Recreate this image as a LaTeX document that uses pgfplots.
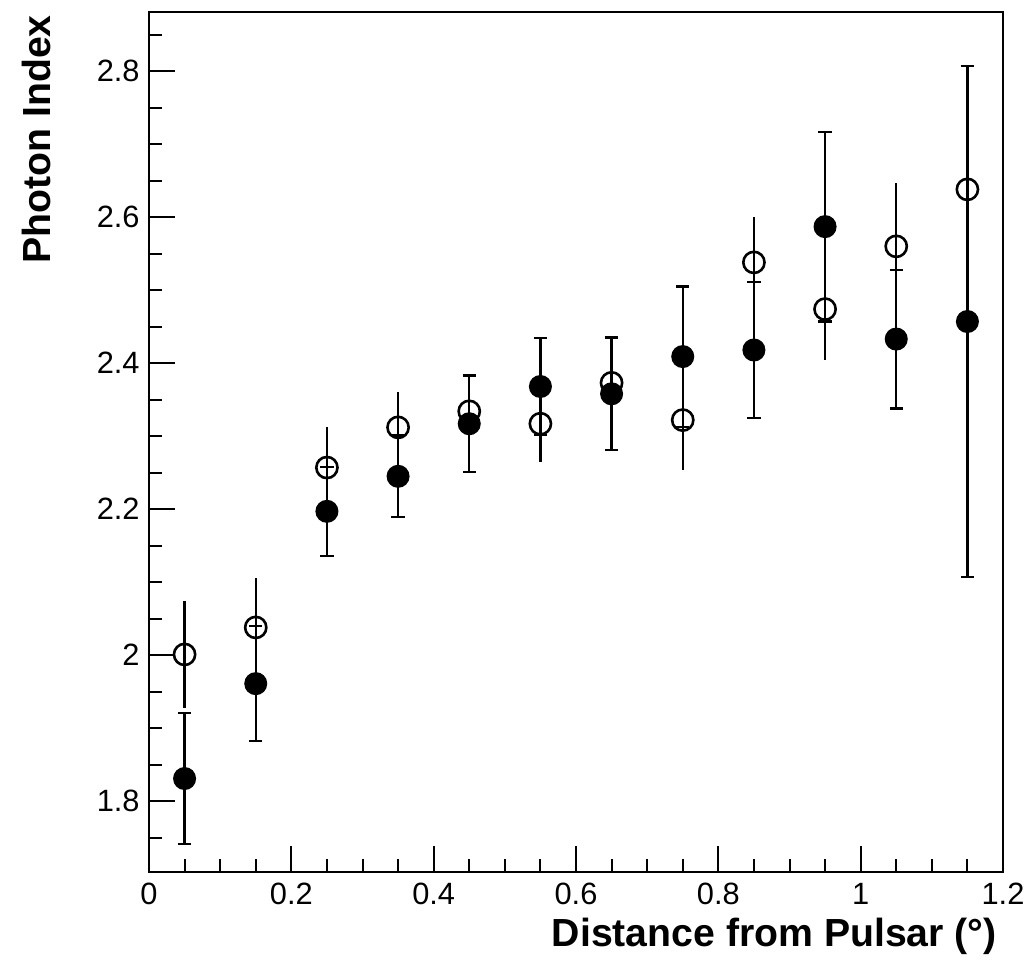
\documentclass[border=0pt]{standalone}
\usepackage{fontspec}
\setmainfont{Liberation Sans}
\usepackage{pgfplots}
\pgfplotsset{compat=1.18}
\usetikzlibrary{calc}
\begin{document}
\begin{tikzpicture}
\begin{axis}[
  name=ax,
  at={(0,0)}, anchor=south west,
  scale only axis,
  width=427pt, height=430pt,
  xmin=0, xmax=1.2,
  ymin=1.703, ymax=2.881,
  axis line style={line width=1.3pt},
  every tick/.style={black, line width=1pt},
  tick align=inside,
  xtick pos=bottom, ytick pos=left,
  xtick={0,0.2,0.4,0.6,0.8,1,1.2},
  ytick={1.8,2,2.2,2.4,2.6,2.8},
  minor xtick={0.05,0.1,0.15,0.25,0.3,0.35,0.45,0.5,0.55,0.65,0.7,0.75,0.85,0.9,0.95,1.05,1.1,1.15},
  minor ytick={1.75,1.85,1.9,1.95,2.05,2.1,2.15,2.25,2.3,2.35,2.45,2.5,2.55,2.65,2.7,2.75,2.85},
  major tick length=13pt,
  minor tick length=6.5pt,
  /pgf/number format/assume math mode=true,
  tick label style={font=\fontsize{15.4}{18}\selectfont, inner sep=0pt},
  yticklabel style={xshift=-4.5pt},
  xticklabel style={yshift=-5.5pt},
  xlabel={Distance from Pulsar (°)},
  ylabel={Photon Index},
  label style={font=\fontsize{19.6}{23}\selectfont\bfseries, inner sep=0pt},
  xlabel style={at={(axis description cs:0.993,-0.0872)}, anchor=base east},
  ylabel style={at={(axis description cs:-0.1159,0.9965)}, anchor=base east, rotate=0},
  clip=false,
]
% open circles
\addplot+[black, line width=1.1pt, only marks, mark=o,
  mark size=5.3pt, mark options={line width=1.3pt, black, fill=none},
  error bars/.cd, y dir=both, y explicit, error mark=none,
  error bar style={line width=1.1pt, black}]
  table[x=x, y=y, y error=e] {
x y e
0.05 2.001 0.073
0.15 2.038 0.068
0.25 2.257 0.055
0.35 2.312 0.048
0.45 2.334 0.050
0.55 2.317 0.052
0.65 2.373 0.060
0.75 2.322 0.068
0.85 2.538 0.062
0.95 2.474 0.070
1.05 2.560 0.087
1.15 2.638 0.150
};
% filled circles
\addplot+[black, line width=1.1pt, only marks, mark=*,
  mark size=5.2pt, mark options={black, fill=black},
  error bars/.cd, y dir=both, y explicit,
  error mark options={rotate=90, mark size=3.3pt, line width=1.1pt, black},
  error bar style={line width=1.1pt, black}]
  table[x=x, y=y, y error=e] {
x y e
0.05 1.831 0.090
0.15 1.961 0.079
0.25 2.197 0.061
0.35 2.245 0.056
0.45 2.317 0.066
0.55 2.368 0.066
0.65 2.358 0.077
0.75 2.409 0.096
0.85 2.418 0.093
0.95 2.587 0.130
1.05 2.433 0.095
1.15 2.457 0.350
};
\end{axis}
\pgfresetboundingbox
\path[use as bounding box] ($(ax.south west)+(-74.5pt,-45pt)$) rectangle ($(ax.south west)+(439.5pt,436pt)$);
\end{tikzpicture}
\end{document}
